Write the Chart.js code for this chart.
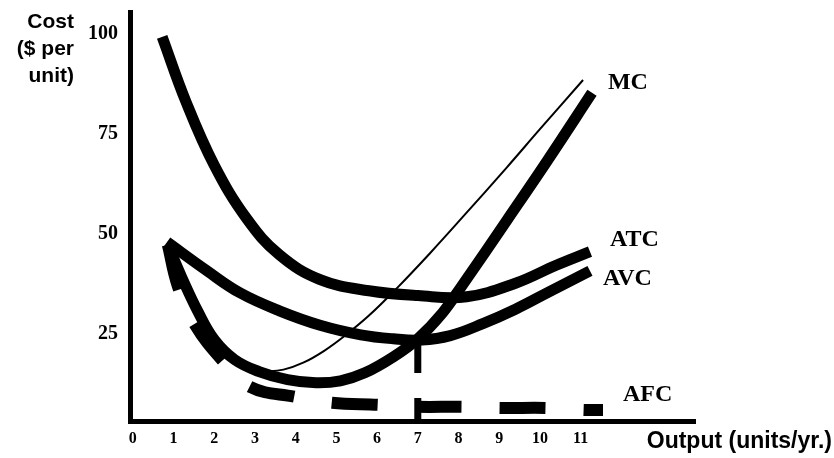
<!doctype html>
<html lang="en">
<head>
<meta charset="utf-8">
<title>Cost curves</title>
<script src="https://cdn.jsdelivr.net/npm/chart.js@4.4.1/dist/chart.umd.min.js"></script>
<style>
    body { margin: 0; background: #fff; }
    #wrap { width: 834px; height: 458px; }
</style>
</head>
<body>
<div id="wrap"><canvas id="chart" width="834" height="458"></canvas></div>
<script>
// axis ticks
var xTicks = [0, 1, 2, 3, 4, 5, 6, 7, 8, 9, 10, 11];
var yTicks = [25, 50, 75, 100];

// ATC - average total cost
var atcX = [0.72, 1.3, 2.0, 2.8, 3.6, 4.6, 5.8, 7.0, 8.2, 9.4, 10.4, 11.23];
var atcY = [99.3, 83.2, 67.2, 53.8, 44.8, 38.6, 35.8, 34.6, 34.3, 37.7, 42.2, 45.6];

// AVC - average variable cost
var avcX = [0.84, 1.82, 2.63, 3.6, 4.6, 5.6, 6.4, 7.1, 7.8, 8.6, 9.4, 10.2, 11.23];
var avcY = [48, 40.8, 35.3, 30.8, 27.2, 24.8, 23.8, 23.5, 24.6, 27.6, 31.2, 35.4, 40.8];

// MC - marginal cost (thick)
var mcX = [0.86, 1.2, 1.6, 2.0, 2.5, 3.1, 3.8, 4.5, 5.1, 5.7, 6.4, 7.0, 7.6, 8.1, 9.2, 10.2, 11.28];
var mcY = [47.3, 39.2, 30.6, 23.6, 18.6, 15.6, 13.6, 12.8, 13.3, 15.3, 19.3, 23.8, 30.2, 37.3, 53.6, 68.6, 85.3];

// MC - thin line
var mc2X = [3.17, 3.7, 4.2, 4.7, 5.2, 5.8, 6.5, 7.3, 8.1, 9.2, 10.0, 11.06];
var mc2Y = [15.5, 16.1, 17.9, 20.8, 24.5, 29.6, 36.6, 45.2, 54.2, 66.8, 76.2, 88.5];

// AFC - average fixed cost (dashed)
var afcX = [0.86, 1.11, 1.53, 2.19, 2.88, 3.98, 4.89, 6.02, 6.98, 8.11, 9.02, 10.17, 11.06, 11.55];
var afcY = [47.3, 36.8, 27.3, 18.5, 11.8, 9.3, 7.8, 7.3, 6.8, 6.8, 6.5, 6.5, 6, 6];

// dashed line at output 7
var q7X = [7, 7];
var q7Y = [23.5, 2.5];

var curveLabels = [
    { text: 'MC', x: 11.67, y: 87.8 },
    { text: 'ATC', x: 11.72, y: 48.5 },
    { text: 'AVC', x: 11.55, y: 38.8 },
    { text: 'AFC', x: 12.04, y: 9.8 }
];
var yTitle = ['Cost', '($ per', 'unit)'];
var xTitle = 'Output (units/yr.)';

function pts(xs, ys) {
    return xs.map(function(x, i) { return { x: x, y: ys[i] }; });
}

function curve(xs, ys, width, dash) {
    return {
        data: pts(xs, ys),
        borderColor: '#000',
        borderWidth: width,
        borderDash: dash || [],
        borderCapStyle: 'butt',
        borderJoinStyle: 'round',
        tension: 0.4,
        pointRadius: 0,
        fill: false
    };
}

var textPlugin = {
    id: 'texts',
    afterDraw: function(chart) {
        var ctx = chart.ctx;
        var xs = chart.scales.x, ys = chart.scales.y;
        ctx.save();
        ctx.fillStyle = '#000';
        ctx.textBaseline = 'middle';
        ctx.textAlign = 'left';
        ctx.font = 'bold 24px "Liberation Serif"';
        curveLabels.forEach(function(l) {
            ctx.fillText(l.text, xs.getPixelForValue(l.x), ys.getPixelForValue(l.y));
        });
        ctx.textAlign = 'right';
        ctx.font = 'bold 21px "Liberation Sans"';
        yTitle.forEach(function(line, i) {
            ctx.fillText(line, 74, 22 + i * 27);
        });
        ctx.font = 'bold 23px "Liberation Sans"';
        ctx.fillText(xTitle, 832, 442);
        ctx.restore();
    }
};

var q7 = curve(q7X, q7Y, 7, [33, 25]);
q7.tension = 0;
q7.clip = false;

function noPad(scale) {
    scale.paddingTop = 0;
    scale.paddingBottom = 0;
    scale.paddingLeft = 0;
    scale.paddingRight = 0;
}

new Chart(document.getElementById('chart'), {
    type: 'line',
    data: {
        datasets: [
            curve(atcX, atcY, 11),
            curve(avcX, avcY, 11),
            curve(mcX, mcY, 11),
            curve(mc2X, mc2Y, 2),
            curve(afcX, afcY, 12, [46, 38]),
            q7
        ]
    },
    options: {
        responsive: false,
        animation: false,
        devicePixelRatio: 1,
        layout: { padding: { top: 12, right: 139, bottom: 0, left: 0 } },
        plugins: { legend: { display: false }, tooltip: { enabled: false } },
        scales: {
            x: {
                type: 'linear',
                min: -0.07,
                max: 13.81,
                grid: { display: false, drawTicks: false, tickLength: 0 },
                border: { display: true, color: '#000', width: 5 },
                afterBuildTicks: function(scale) {
                    scale.ticks = xTicks.map(function(v) { return { value: v }; });
                },
                afterFit: function(scale) { scale.height = 37; noPad(scale); },
                ticks: {
                    color: '#000',
                    padding: 8,
                    maxRotation: 0,
                    autoSkip: false,
                    font: { family: 'Liberation Serif', size: 16, weight: 'bold' },
                    callback: function(v) { return String(v); }
                }
            },
            y: {
                type: 'linear',
                min: 3.25,
                max: 105.5,
                grid: { display: false, drawTicks: false, tickLength: 0 },
                border: { display: true, color: '#000', width: 5 },
                afterBuildTicks: function(scale) {
                    scale.ticks = yTicks.map(function(v) { return { value: v }; });
                },
                afterFit: function(scale) { scale.width = 130; noPad(scale); },
                ticks: {
                    color: '#000',
                    padding: 12,
                    autoSkip: false,
                    font: { family: 'Liberation Serif', size: 20, weight: 'bold' },
                    callback: function(v) { return String(v); }
                }
            }
        }
    },
    plugins: [textPlugin]
});
</script>
</body>
</html>
